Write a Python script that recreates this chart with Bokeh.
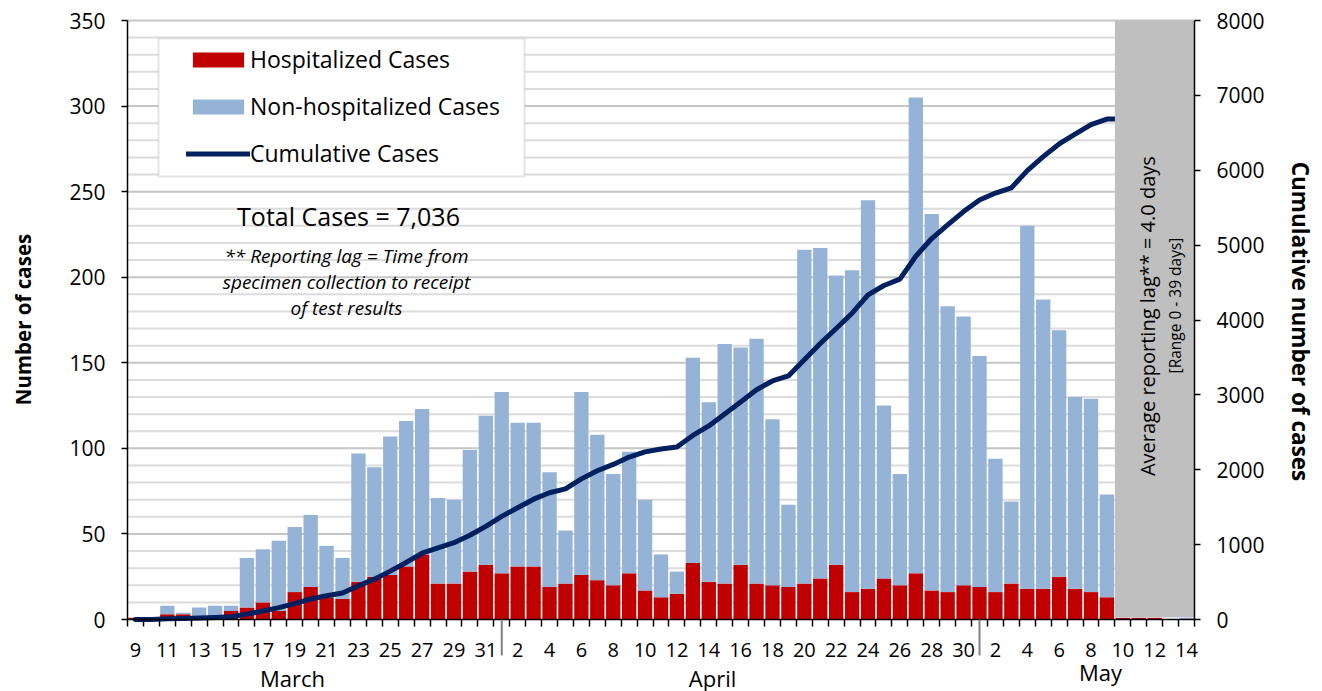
import numpy as np
from bokeh.plotting import figure
from bokeh.models import (Range1d, LinearAxis, FixedTicker, Label, BoxAnnotation,
                          Legend, LegendItem, Arrow, ColumnDataSource)
from bokeh.embed import file_html
from bokeh.resources import INLINE

# ---------------- data ----------------
march_days = list(range(9, 32))
april_days = list(range(1, 31))
may_days = list(range(1, 15))
month_names = ["March", "April", "May"]

hosp_march = [1, 0, 3, 3, 1, 1, 5, 7, 10, 5, 16, 19, 13, 12, 22, 25, 26, 31, 38, 21, 21, 28, 32]
non_march = [0, 0, 5, 1, 6, 7, 3, 29, 31, 41, 38, 42, 30, 24, 75, 64, 81, 85, 85, 50, 49, 71, 87]
hosp_april = [27, 31, 31, 19, 21, 26, 23, 20, 27, 17, 13, 15, 33, 22, 21, 32, 21, 20, 19, 21,
              24, 32, 16, 18, 24, 20, 27, 17, 16, 20]
non_april = [106, 84, 84, 67, 31, 107, 85, 65, 71, 53, 25, 13, 120, 105, 140, 127, 143, 97, 48, 195,
             193, 169, 188, 227, 101, 65, 278, 220, 167, 157]
hosp_may = [19, 16, 21, 18, 18, 25, 18, 16, 13, 1, 1, 1, 0, 0]
non_may = [135, 78, 48, 212, 169, 144, 112, 113, 60, 0, 0, 0, 0, 1]

pending_from_day = ("May", 10)   # start of the reporting-lag window (shaded)

left_ticks = list(range(0, 351, 50))
left_minor = list(range(0, 351, 10))
right_ticks = list(range(0, 8001, 1000))

# ---------------- derived ----------------
day_numbers = march_days + april_days + may_days
months = ["March"] * len(march_days) + ["April"] * len(april_days) + ["May"] * len(may_days)
hospitalized = hosp_march + hosp_april + hosp_may
non_hospitalized = non_march + non_april + non_may
n = len(day_numbers)
idx = list(range(n))
pending_idx = [i for i in idx if (months[i], day_numbers[i]) == pending_from_day][0]
cumulative = np.cumsum(np.array(hospitalized) + np.array(non_hospitalized))

FONT = "Open Sans"
RED = "#C00000"
BLUE = "#95B3D7"
NAVY = "#002060"
GRAY = "#BFBFBF"

# page pixel geometry: the frame covers the whole canvas, plot area is inside it
W, H = 1322, 691
FL, FR, FT, FB = 127, 1194, 20, 619   # plot area (value axis 0 at FB)
YMAX = 350
CMAX = 8000


def xd(px):
    return -0.5 + (px - FL) * n / (FR - FL)


def yd(py):
    return (FB - py) * YMAX / (FB - FT)


p = figure(width=W, height=H, output_backend="svg", toolbar_location=None,
           x_range=Range1d(xd(0), xd(W)), y_range=Range1d(yd(H), yd(0)),
           x_axis_location=None, y_axis_location=None,
           min_border_left=0, min_border_right=0, min_border_top=0, min_border_bottom=0)
p.extra_y_ranges = {"cum": Range1d(yd(H) * CMAX / YMAX, yd(0) * CMAX / YMAX)}
p.outline_line_color = None
p.background_fill_color = "white"
p.border_fill_color = "white"
p.xgrid.grid_line_color = None
p.ygrid.grid_line_color = None

# horizontal gridlines limited to the plot area
minor_vals = [v for v in left_minor if v not in left_ticks]
major_vals = [v for v in left_ticks if v > 0]
p.segment(x0=-0.5, x1=n - 0.5, y0=minor_vals, y1=minor_vals, line_color="#DCDCDC", line_width=2)
p.segment(x0=-0.5, x1=n - 0.5, y0=major_vals, y1=major_vals, line_color="#C6C6C6", line_width=2)

src = ColumnDataSource(dict(x=idx, hosp=hospitalized, non=non_hospitalized))
bars = p.vbar_stack(["hosp", "non"], x="x", width=0.9, source=src,
                    fill_color=[RED, BLUE], line_color=None)

cum_src = ColumnDataSource(dict(x=idx, y=cumulative))
ln = p.line("x", "y", source=cum_src, line_width=5, line_color=NAVY,
            y_range_name="cum", line_join="round", line_cap="round")

# shaded lag window (drawn over the incomplete days)
p.quad(left=pending_idx - 0.5, right=n - 0.5, bottom=yd(FB - 2), top=YMAX,
       fill_color=GRAY, line_color=None)

# ---------------- axes ----------------
xa = LinearAxis(fixed_location=0, bounds=(-0.5, n - 0.5),
                ticker=FixedTicker(ticks=[i for i in idx if i % 2 == 0],
                                   minor_ticks=[i - 0.5 for i in range(n + 1)]))
xa.major_label_overrides = {i: str(day_numbers[i]) for i in idx if i % 2 == 0}
xa.major_tick_line_color = None
xa.major_tick_in = 0
xa.major_tick_out = 6
xa.minor_tick_in = 0
xa.minor_tick_out = 7
xa.minor_tick_line_color = "black"
xa.minor_tick_line_width = 1.5
xa.major_label_standoff = 16
xa.axis_line_color = "black"
xa.axis_line_width = 1.5
xa.major_label_text_font = FONT
xa.major_label_text_font_size = "20px"
xa.major_label_text_color = "black"
p.add_layout(xa, "below")

ya = LinearAxis(fixed_location=-0.5, bounds=(0, YMAX), ticker=FixedTicker(ticks=left_ticks))
ya.minor_tick_line_color = None
ya.major_tick_in = 0
ya.major_tick_out = 6
ya.major_tick_line_width = 1.5
ya.axis_line_width = 1.5
ya.major_label_standoff = 16
ya.major_label_text_font = FONT
ya.major_label_text_font_size = "21px"
ya.major_label_text_color = "black"
p.add_layout(ya, "left")

ra = LinearAxis(y_range_name="cum", fixed_location=n - 0.5, bounds=(0, CMAX),
                ticker=FixedTicker(ticks=right_ticks))
ra.minor_tick_line_color = None
ra.major_tick_in = 0
ra.major_tick_out = 6
ra.major_tick_line_width = 1.5
ra.axis_line_width = 1.5
ra.major_label_standoff = 16
ra.major_label_text_font = FONT
ra.major_label_text_font_size = "21px"
ra.major_label_text_color = "black"
p.add_layout(ra, "right")

# axis titles
p.add_layout(Label(x=xd(22), y=yd(319), text="Number of cases", angle=np.pi / 2,
                   text_align="center", text_baseline="middle", text_font=FONT,
                   text_font_size="20.5px", text_font_style="bold", text_color="black"))
p.add_layout(Label(x=xd(1300), y=yd(321), text="Cumulative number of cases", angle=-np.pi / 2,
                   text_align="center", text_baseline="middle", text_font=FONT,
                   text_font_size="22.5px", text_font_style="bold", text_color="black"))

# month separators and month names
for m in month_names[1:]:
    i0 = months.index(m)
    p.add_layout(Arrow(start=None, end=None, x_start=i0, x_end=i0, y_start=0, y_end=yd(655),
                       line_color="#808080", line_width=2))
for m, px, py in [("March", 292, 677), ("April", 712, 677), ("May", 1100, 671)]:
    p.add_layout(Label(x=xd(px), y=yd(py), text=m, text_align="center", text_baseline="middle",
                       text_font=FONT, text_font_size="22px", text_color="black"))

# ---------------- legend ----------------
p.add_layout(BoxAnnotation(left=xd(158), right=xd(524), top=yd(38), bottom=yd(176),
                           fill_color="white", fill_alpha=1, line_color="#A6A6A6", line_width=2))
legend = Legend(items=[LegendItem(label="Hospitalized Cases", renderers=[bars[0]]),
                       LegendItem(label="Non-hospitalized Cases", renderers=[bars[1]]),
                       LegendItem(label="Cumulative Cases", renderers=[ln])],
                location=(186, H - 169), padding=0, spacing=15, margin=0,
                glyph_width=64, glyph_height=19, label_height=31, label_standoff=0,
                label_text_font=FONT, label_text_font_size="23px", label_text_color="black",
                border_line_alpha=0, background_fill_alpha=0)
p.add_layout(legend)

# ---------------- texts ----------------
p.add_layout(Label(x=xd(348), y=yd(215), text="Total Cases = 7,036", text_align="center",
                   text_baseline="middle", text_font=FONT, text_font_size="25px", text_color="black"))
for t, py in [("** Reporting lag = Time from", 255), ("specimen collection to receipt", 281),
              ("of test results", 307)]:
    p.add_layout(Label(x=xd(346), y=yd(py), text=t, text_align="center", text_baseline="middle",
                       text_font=FONT, text_font_size="19px", text_font_style="italic",
                       text_color="black"))

p.add_layout(Label(x=xd(1147), y=yd(313), text="Average reporting lag**  = 4.0 days",
                   angle=np.pi / 2, text_align="center", text_baseline="middle",
                   text_font=FONT, text_font_size="20px", text_color="black"))
p.add_layout(Label(x=xd(1174), y=yd(305), text="[Range 0 - 39 days]",
                   angle=np.pi / 2, text_align="center", text_baseline="middle",
                   text_font=FONT, text_font_size="15.5px", text_color="black"))

open("out.html", "w").write(file_html(p, INLINE))
